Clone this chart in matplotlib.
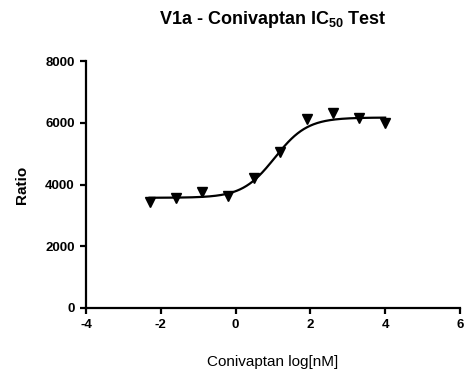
import matplotlib
matplotlib.use("Agg")
import matplotlib.pyplot as plt
import numpy as np

plt.rcParams['font.family'] = ['Liberation Sans', 'DejaVu Sans']
plt.rcParams['mathtext.fontset'] = 'custom'
plt.rcParams['mathtext.bf'] = 'Liberation Sans:bold'
plt.rcParams['mathtext.rm'] = 'Liberation Sans:bold'
plt.rcParams['axes.unicode_minus'] = False

# measured points: log concentration vs ratio
log_conc = [-2.3, -1.6, -0.9, -0.2, 0.5, 1.2, 1.9, 2.6, 3.3, 4.0]
ratio = [3420, 3550, 3760, 3630, 4200, 5060, 6110, 6320, 6140, 5980]

# four-parameter logistic fit
bottom, top, log_ec50, hill = 3570, 6170, 1.05, 1.0

x_ticks = [-4, -2, 0, 2, 4, 6]
y_ticks = [0, 2000, 4000, 6000, 8000]

fig = plt.figure(figsize=(4.66, 3.70), dpi=100)
ax = fig.add_axes([0.1845, 0.1676, 0.8025, 0.6674])

xs = np.linspace(min(log_conc), max(log_conc), 300)
fit = bottom + (top - bottom) / (1 + 10 ** ((log_ec50 - xs) * hill))
ax.plot(xs, fit, color='black', lw=1.6, zorder=2)
ax.plot(log_conc, ratio, 'v', color='black', markersize=7.5, zorder=3,
        clip_on=False)

ax.set_xlim(-4, 6)
ax.set_ylim(0, 8000)
ax.set_xticks(x_ticks)
ax.set_yticks(y_ticks)
ax.spines['top'].set_visible(False)
ax.spines['right'].set_visible(False)
for s in ('left', 'bottom'):
    ax.spines[s].set_linewidth(1.6)
ax.tick_params(direction='out', length=4, width=1.6, labelsize=9.5, pad=4)
for lab in ax.get_xticklabels() + ax.get_yticklabels():
    lab.set_fontweight('bold')

ax.set_title(r'V1a - Conivaptan IC$_{\mathbf{50}}$ Test', fontsize=13,
             fontweight='bold', pad=27)
ax.set_xlabel('Conivaptan log[nM]', fontsize=11, labelpad=17)
ax.set_ylabel('Ratio', fontsize=11, fontweight='bold', labelpad=12)

fig.savefig('out.png', dpi=100)
